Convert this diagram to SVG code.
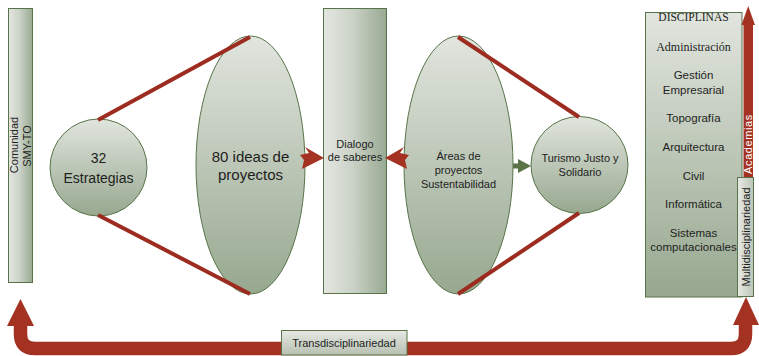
<svg xmlns="http://www.w3.org/2000/svg" width="759" height="356" viewBox="0 0 759 356">
<defs>
<linearGradient id="gv" x1="0" y1="0" x2="0" y2="1">
<stop offset="0" stop-color="#e1e5de"/>
<stop offset="1" stop-color="#97a88f"/>
</linearGradient>
<linearGradient id="gh" x1="0" y1="0" x2="1" y2="0">
<stop offset="0" stop-color="#e3e6e0"/>
<stop offset="0.45" stop-color="#ccd3c8"/>
<stop offset="1" stop-color="#98a991"/>
</linearGradient>
<linearGradient id="gl" x1="0" y1="0" x2="1" y2="0">
<stop offset="0" stop-color="#e8eae5"/>
<stop offset="1" stop-color="#bcc5b6"/>
</linearGradient>
<linearGradient id="gb" x1="0" y1="0" x2="0" y2="1">
<stop offset="0" stop-color="#e6e9e3"/>
<stop offset="1" stop-color="#b7c0b1"/>
</linearGradient>
</defs>
<style>
.n{stroke:#58744a;stroke-width:1}
.t{font-family:"Liberation Sans",Arial,sans-serif;fill:#1e1e1e;text-anchor:middle}
.s{font-family:"Liberation Serif","Times New Roman",serif;fill:#1e1e1e;text-anchor:middle}
.ln{stroke:#9c2b20;stroke-width:4;fill:none;stroke-linecap:butt}
.ra{fill:#a33222}
</style>

<g id="comunidad">
<rect class="n" x="8.5" y="8.5" width="24" height="274" fill="url(#gh)"/>
<text class="t" font-size="11" transform="translate(17.5,145) rotate(-90)">Comunidad</text>
<text class="t" font-size="11" transform="translate(30.5,146) rotate(-90)">SMY-TO</text>
</g>

<g id="estrategias">
<circle class="n" cx="98.5" cy="167.5" r="48.5" fill="url(#gv)"/>
<text class="t" font-size="14" x="98.5" y="163">32</text>
<text class="t" font-size="14" x="98.5" y="183">Estrategias</text>
</g>

<g id="ideas">
<ellipse class="n" cx="250.5" cy="165" rx="54.5" ry="129" fill="url(#gv)"/>
<text class="t" font-size="15" x="250.5" y="162">80 ideas de</text>
<text class="t" font-size="15" x="250.5" y="180">proyectos</text>
</g>

<g id="dialogo">
<rect class="n" x="323.5" y="8.5" width="63" height="285" fill="url(#gh)"/>
<text class="t" font-size="11" x="355" y="148">Dialogo</text>
<text class="t" font-size="11" x="355" y="161">de saberes</text>
</g>

<g id="areas">
<ellipse class="n" cx="458.5" cy="165" rx="54.5" ry="129" fill="url(#gv)"/>
<text class="t" font-size="11" x="458.5" y="160">Áreas de</text>
<text class="t" font-size="11" x="458.5" y="174">proyectos</text>
<text class="t" font-size="11" x="458.5" y="188">Sustentabilidad</text>
</g>

<g id="turismo">
<circle class="n" cx="579.5" cy="165" r="48.5" fill="url(#gv)"/>
<text class="t" font-size="11" x="580" y="162">Turismo Justo y</text>
<text class="t" font-size="11" x="580" y="176">Solidario</text>
</g>

<g id="disciplinas">
<rect class="n" x="645.5" y="12.5" width="96.5" height="284.5" fill="url(#gv)"/>
<text class="s" font-size="11.5" x="693.5" y="21">DISCIPLINAS</text>
<text class="s" font-size="12" x="693.5" y="51">Administración</text>
<text class="t" font-size="11.5" x="693.5" y="79">Gestión</text>
<text class="t" font-size="11.5" x="693.5" y="94">Empresarial</text>
<text class="t" font-size="11.5" x="693.5" y="122">Topografía</text>
<text class="t" font-size="11.5" x="693.5" y="151">Arquitectura</text>
<text class="t" font-size="11.5" x="693.5" y="180">Civil</text>
<text class="t" font-size="11.5" x="693.5" y="208">Informática</text>
<text class="t" font-size="11.5" x="693.5" y="237">Sistemas</text>
<text class="t" font-size="11.5" x="693.5" y="251">computacionales</text>
</g>

<g id="academias">
<rect class="ra" x="743.5" y="24" width="9.5" height="154"/>
<polygon class="ra" points="748.2,6 741.5,25 755,25"/>
<text class="t" font-size="11" letter-spacing="0.6" style="fill:#ffffff" transform="translate(752,144) rotate(-90)">Academias</text>
</g>

<g id="multidisciplinariedad">
<rect class="n" x="737.5" y="177.5" width="16" height="119" fill="url(#gl)"/>
<text class="t" font-size="11" transform="translate(750,237) rotate(-90)">Multidisciplinariedad</text>
</g>

<g id="connectors">
<line class="ln" x1="98" y1="120" x2="250" y2="37"/>
<line class="ln" x1="98" y1="215" x2="250" y2="294"/>
<line class="ln" x1="458" y1="37" x2="579" y2="117"/>
<line class="ln" x1="458" y1="294" x2="579" y2="213"/>
<polygon class="ra" points="324,158 305,147 309,153 300,155 304,160 302,169"/>
<polygon class="ra" points="385,158 404,147 400,153 409,155 405,160 407,169"/>
<rect x="513" y="163.5" width="6" height="5" fill="#5a7347"/>
<polygon points="518,159 531,166 518,173" fill="#5a7347"/>
<path d="M20.5,325 V334 Q20.5,348.5 35,348.5 H731 Q745.5,348.5 745.5,334 V324" fill="none" stroke="#a33222" stroke-width="13.5"/>
<polygon class="ra" points="20.5,299 7,326 34,326"/>
<polygon class="ra" points="746,297 733,325 759,325"/>
</g>

<g id="transdisciplinariedad">
<rect class="n" x="281.5" y="330.5" width="125.5" height="24.5" fill="url(#gb)"/>
<text class="t" font-size="11" x="344" y="347">Transdisciplinariedad</text>
</g>
</svg>
